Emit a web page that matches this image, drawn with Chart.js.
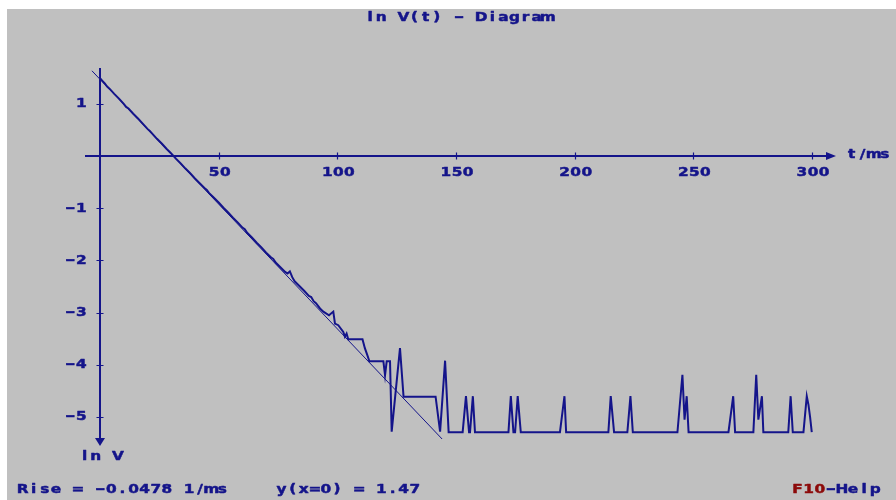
<!DOCTYPE html>
<html>
<head>
<meta charset="utf-8">
<script src="https://cdn.jsdelivr.net/npm/chart.js@4/dist/chart.umd.min.js"></script>
<style>
  html, body { margin: 0; padding: 0; background: #ffffff; }
  canvas { display: block; }
</style>
</head>
<body>
<canvas id="c" width="896" height="500"></canvas>
<script>
// Measured decay: time in ms and natural log of the voltage
const measuredT = [
  0, 1, 2, 3, 4, 6, 8, 10, 11, 12, 14, 16, 18, 20, 21, 22, 24, 26, 28, 30,
  32, 34, 36, 38, 40, 42, 44, 45, 46, 48, 50, 52, 54, 56, 58, 60, 61, 62, 64, 66,
  68, 70, 72, 73, 74, 76, 78, 79, 80, 81, 82, 84, 86, 88, 89, 90, 91, 92.7, 94.1, 96.5,
  98.3, 99.0, 100.4, 102.5, 103.2, 103.9, 104.6, 110.6, 111.6, 112.6, 113.5, 119.4, 120.1, 120.8, 122.2, 122.9,
  126.4, 127.9, 141.4, 143.3, 145.4, 146.9,
  152.8, 154.2, 155.5, 155.9, 157.1, 158.0,
  172.1, 173.1, 174.2, 174.9, 176.0, 177.3,
  193.8, 195.7, 196.4,
  214.2, 215.2, 216.6,
  222.2, 223.5, 224.5,
  243.3, 245.4, 246.3, 247.2, 248.0,
  264.8, 266.8, 267.6,
  275.3, 276.5, 277.4, 278.9, 279.5,
  290.0, 291.0, 291.9,
  296.4, 297.8, 298.5, 299.2, 299.9
];
const measuredLnV = [
  1.49, 1.44, 1.39, 1.33, 1.29, 1.19, 1.10, 1.00, 0.94, 0.91, 0.81, 0.72, 0.62, 0.52, 0.48, 0.43, 0.33, 0.24, 0.14, 0.05,
  -0.05, -0.14, -0.24, -0.33, -0.43, -0.52, -0.61, -0.65, -0.71, -0.80, -0.89, -0.99, -1.08, -1.18, -1.27, -1.37, -1.40, -1.47, -1.56, -1.66,
  -1.75, -1.85, -1.94, -1.97, -2.04, -2.13, -2.22, -2.25, -2.21, -2.32, -2.40, -2.49, -2.58, -2.68, -2.70, -2.78, -2.82, -2.92, -2.98, -3.05,
  -2.98, -3.21, -3.24, -3.37, -3.46, -3.40, -3.51, -3.51, -3.68, -3.81, -3.93, -3.93, -4.20, -3.93, -3.93, -5.28,
  -3.68, -4.61, -4.61, -5.28, -3.92, -5.29,
  -5.29, -4.60, -5.29, -5.29, -4.60, -5.29,
  -5.29, -4.60, -5.29, -5.29, -4.60, -5.29,
  -5.29, -4.60, -5.29,
  -5.29, -4.60, -5.29,
  -5.29, -4.60, -5.29,
  -5.29, -4.19, -5.05, -4.60, -5.29,
  -5.29, -4.60, -5.29,
  -5.29, -4.19, -5.05, -4.60, -5.29,
  -5.29, -4.60, -5.29,
  -5.29, -4.60, -4.76, -5.00, -5.29
];

// Regression line parameters
const riseSlope = -0.0478;   // 1/ms
const interceptY = 1.47;     // ln V at t = 0
const fitRange = [-3.4, 144.6];

// Axis ticks
const xTickValues = [50, 100, 150, 200, 250, 300];
const yTickValues = [1, -1, -2, -3, -4, -5];

const INK = '#14148a';
const RED = '#8c0a0a';
const BG = '#c0c0c0';

const measured = measuredT.map((t, i) => ({ x: t, y: measuredLnV[i] }));
const fitLine = fitRange.map(t => ({ x: t, y: interceptY + riseSlope * t }));

// Fixed-pitch screen lettering: each character sits centred in its own cell
const CELL = 11.1;
const SX = 1.18;
const FONT = 'bold 13px "DejaVu Sans"';

function drawText(ctx, str, x, y, align, color) {
  const w = CELL * str.length;
  let x0 = x;
  if (align === 'center') x0 = x - w / 2;
  else if (align === 'right') x0 = x - w;
  ctx.save();
  ctx.font = FONT;
  ctx.fillStyle = color;
  ctx.strokeStyle = color;
  ctx.lineWidth = 0.5;
  ctx.lineJoin = 'round';
  ctx.textAlign = 'center';
  ctx.textBaseline = 'middle';
  for (let i = 0; i < str.length; i++) {
    const ch = str[i];
    if (ch === ' ') continue;
    ctx.save();
    ctx.translate(x0 + CELL * (i + 0.5), y);
    ctx.scale(ch === '-' ? SX * 1.6 : SX, 1);
    ctx.fillText(ch, 0, 0);
    ctx.strokeText(ch, 0, 0);
    ctx.restore();
  }
  ctx.restore();
  return x0 + w;
}

const screenPlugin = {
  id: 'screen',
  beforeDraw(chart) {
    const ctx = chart.ctx;
    ctx.save();
    ctx.fillStyle = '#ffffff';
    ctx.fillRect(0, 0, chart.width, chart.height);
    ctx.fillStyle = BG;
    ctx.fillRect(7, 9, chart.width - 7, chart.height - 9);
    ctx.restore();
  },
  afterDraw(chart) {
    const ctx = chart.ctx;
    const xs = chart.scales.x, ys = chart.scales.y;
    const x0 = xs.getPixelForValue(0);
    const y0 = ys.getPixelForValue(0);
    const area = chart.chartArea;

    ctx.save();
    ctx.strokeStyle = INK;
    ctx.fillStyle = INK;
    ctx.lineWidth = 1.2;

    // tick crosses
    ctx.beginPath();
    xTickValues.forEach(v => {
      const px = Math.round(xs.getPixelForValue(v)) + 0.5;
      ctx.moveTo(px, y0 - 3.5); ctx.lineTo(px, y0 + 3.5);
    });
    yTickValues.forEach(v => {
      const py = Math.round(ys.getPixelForValue(v)) + 0.5;
      ctx.moveTo(x0 - 3.5, py); ctx.lineTo(x0 + 3.5, py);
    });
    ctx.stroke();

    // arrow heads
    ctx.beginPath();
    ctx.moveTo(area.right, y0 - 4);
    ctx.lineTo(area.right + 10, y0);
    ctx.lineTo(area.right, y0 + 4);
    ctx.closePath();
    ctx.fill();
    ctx.beginPath();
    ctx.moveTo(x0 - 5, area.bottom - 1);
    ctx.lineTo(x0, area.bottom + 7);
    ctx.lineTo(x0 + 5, area.bottom - 1);
    ctx.closePath();
    ctx.fill();
    ctx.restore();

    // tick labels
    xTickValues.forEach(v => drawText(ctx, String(v), xs.getPixelForValue(v) + 1, y0 + 17, 'center', INK));
    yTickValues.forEach(v => drawText(ctx, String(v), x0 - 13, ys.getPixelForValue(v), 'right', INK));

    // captions
    drawText(ctx, 'ln V(t) - Diagram', 459, 18, 'center', INK);
    drawText(ctx, 't/ms', 846, 155, 'left', INK);
    drawText(ctx, 'ln V', 79, 457, 'left', INK);
    drawText(ctx, 'Rise = ' + riseSlope.toFixed(4) + ' 1/ms', 17, 490, 'left', INK);
    drawText(ctx, 'y(x=0) = ' + interceptY.toFixed(2), 276, 490, 'left', INK);
    const xe = drawText(ctx, 'F10', 792, 490, 'left', RED);
    drawText(ctx, '-Help', xe, 490, 'left', INK);
  }
};

new Chart(document.getElementById('c'), {
  type: 'line',
  data: {
    datasets: [
      { label: 'Fit', data: fitLine, borderColor: INK, borderWidth: 1, pointRadius: 0, tension: 0, order: 2 },
      { label: 'ln V', data: measured, borderColor: INK, borderWidth: 2, pointRadius: 0, tension: 0, order: 1 }
    ]
  },
  options: {
    responsive: false,
    animation: false,
    devicePixelRatio: 1,
    layout: { padding: { left: 86, right: 70, top: 69, bottom: 61 } },
    plugins: { legend: { display: false }, tooltip: { enabled: false }, title: { display: false } },
    scales: {
      x: {
        type: 'linear', min: -5.9, max: 305.9, position: { y: 0 },
        grid: { display: true, drawOnChartArea: false, drawTicks: false },
        border: { display: true, color: INK, width: 2 },
        ticks: { display: false, stepSize: 50, includeBounds: false }
      },
      y: {
        type: 'linear', min: -5.42, max: 1.667, position: { x: 0 },
        grid: { display: true, drawOnChartArea: false, drawTicks: false },
        border: { display: true, color: INK, width: 2 },
        ticks: { display: false, stepSize: 1, includeBounds: false }
      }
    }
  },
  plugins: [screenPlugin]
});
</script>
</body>
</html>
